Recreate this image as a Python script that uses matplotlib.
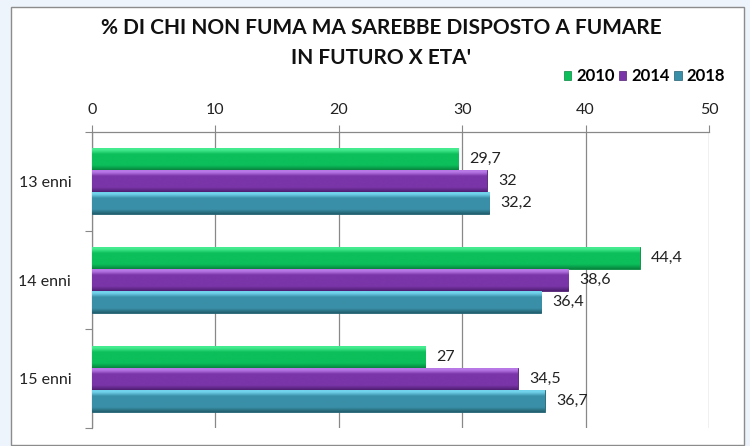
import numpy as np
import matplotlib
matplotlib.use("Agg")
import matplotlib.pyplot as plt
from matplotlib.patches import Rectangle, Patch
from matplotlib.colors import to_rgb

categories = ["13 enni", "14 enni", "15 enni"]
years = ["2010", "2014", "2018"]
v2010 = [29.7, 44.4, 27.0]
v2014 = [32.0, 38.6, 34.5]
v2018 = [32.2, 36.4, 36.7]
labels2010 = ["29,7", "44,4", "27"]
labels2014 = ["32", "38,6", "34,5"]
labels2018 = ["32,2", "36,4", "36,7"]
title = "% DI CHI NON FUMA MA SAREBBE DISPOSTO A FUMARE\nIN FUTURO X ETA'"

series = [v2010, v2014, v2018]
series_labels = [labels2010, labels2014, labels2018]
# (light, base, dark)
palettes = [("#45eb8f", "#0cbf5a", "#07863f"),
            ("#b878e6", "#7a35a8", "#4f1f72"),
            ("#72d3ec", "#3a8fa8", "#22606f")]

FONT = "Lato"
plt.rcParams["font.family"] = [FONT, "DejaVu Sans"]

fig = plt.figure(figsize=(7.5, 4.46), dpi=100)
fig.patch.set_facecolor("#eef4fb")
frame = Rectangle((11/750, 1-445/446), (744-11)/750, (445-7)/446,
                  transform=fig.transFigure, facecolor="white",
                  edgecolor="#8c8c8c", linewidth=1.0, zorder=-10)
fig.patches.append(frame)

ax = fig.add_axes([92/750, 1-428/446, (709-92)/750, (428-132)/446])
ax.set_facecolor("none")
ax.set_zorder(1)

n = len(categories)
bar_h = 0.223
offsets = [-bar_h, 0.0, bar_h]
y = np.arange(n)

def gradient_cmap(light, base, dark):
    stops = [(0.0, light), (0.12, light), (0.3, base), (0.8, base), (1.0, dark)]
    rows = 40
    arr = np.zeros((rows, 1, 3))
    for i in range(rows):
        f = i / (rows - 1)
        for (f0, c0), (f1, c1) in zip(stops[:-1], stops[1:]):
            if f0 <= f <= f1:
                t = 0 if f1 == f0 else (f - f0) / (f1 - f0)
                arr[i, 0] = np.array(to_rgb(c0)) * (1 - t) + np.array(to_rgb(c1)) * t
                break
    return arr

for s, (vals, labs, pal) in enumerate(zip(series, series_labels, palettes)):
    bars = ax.barh(y + offsets[s], vals, height=bar_h, color=pal[1],
                   edgecolor=pal[2], linewidth=0.6, zorder=3)
    grad = gradient_cmap(*pal)
    for b, lab in zip(bars, labs):
        x0, y0 = b.get_x(), b.get_y()
        w, h = b.get_width(), b.get_height()
        im = ax.imshow(grad, extent=(x0, x0 + w, y0 + h, y0), aspect="auto",
                       zorder=3.5, interpolation="bilinear")
        im.set_clip_path(b)
        ax.annotate(lab, (x0 + w, y0 + h / 2), xytext=(8, 0),
                    textcoords="offset points", va="center", ha="left",
                    fontsize=11.5, color="#222222", zorder=5)

ax.set_xlim(0, 50)
ax.set_ylim(n - 0.5, -0.5)
ax.set_xticks(np.arange(0, 51, 10))
ax.xaxis.tick_top()
ax.tick_params(axis="x", length=5, color="#888888", labelsize=11.5,
               labelcolor="#222222", pad=6)
ax.grid(axis="x", color="#888888", linewidth=0.9, zorder=1)
ax.set_axisbelow(True)
ax.set_yticks(np.arange(-0.5, n, 1.0))
ax.set_yticklabels([])
ax.set_yticks(y, minor=True)
ax.set_yticklabels(categories, minor=True)
ax.tick_params(axis="y", which="major", length=5, color="#888888")
ax.tick_params(axis="y", which="minor", length=0, pad=15, labelsize=11.5,
               labelcolor="#222222")
for sp in ["right", "bottom"]:
    ax.spines[sp].set_visible(False)
for sp in ["top", "left"]:
    ax.spines[sp].set_color("#888888")
    ax.spines[sp].set_linewidth(0.9)

fig.text(381/750, 1-43/446, title, ha="center", va="center",
         fontsize=15, fontweight="bold", color="#111111", linespacing=1.6)

handles = [Patch(facecolor=p[1], edgecolor=p[2], linewidth=0.5) for p in palettes]
fig.legend(handles, years, loc="center right",
           bbox_to_anchor=(740/750, 1-76/446), ncol=3, frameon=False,
           handlelength=0.45, handleheight=0.45, handletextpad=0.3,
           columnspacing=0.25, prop={"family": FONT, "weight": "bold", "size": 12})

fig.savefig("out.png", dpi=100, facecolor=fig.get_facecolor())
